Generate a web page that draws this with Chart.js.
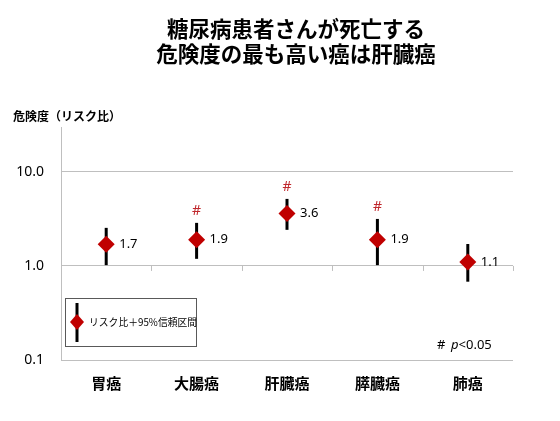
<!DOCTYPE html>
<html>
<head>
<meta charset="utf-8">
<script src="https://cdn.jsdelivr.net/npm/chart.js@4.4.1/dist/chart.umd.min.js"></script>
<style>
  html, body { margin: 0; padding: 0; background: #fff; }
  #wrap { width: 560px; height: 421px; position: relative; }
</style>
</head>
<body>
<div id="wrap"><canvas id="riskChart"></canvas></div>
<script>
// --- DATA ---
const categories = ['胃癌', '大腸癌', '肝臓癌', '膵臓癌', '肺癌'];
const riskRatio = [1.7, 1.9, 3.6, 1.9, 1.1];
const ciLower = [1.02, 1.19, 2.42, 1.02, 0.68];
const ciUpper = [2.54, 2.87, 5.16, 3.16, 1.71];
const significant = [false, true, true, true, false];
const yTicks = [0.1, 1, 10];

const titleLines = ['糖尿病患者さんが死亡する', '危険度の最も高い癌は肝臓癌'];
const jpFont = '"Noto Sans CJK JP", "Noto Sans", sans-serif';
const numFont = '"Noto Sans", "Liberation Sans", sans-serif';
const markColor = '#C00000';

// --- PLUGINS ---
const decorations = {
  id: 'decorations',
  beforeDatasetsDraw(chart) {
    const { ctx, scales: { x, y } } = chart;
    ctx.save();
    // category tick marks on the 1.0 line
    const y1 = y.getPixelForValue(1);
    ctx.strokeStyle = '#bfbfbf';
    ctx.lineWidth = 1;
    for (let i = 0; i <= categories.length; i++) {
      const px = Math.round(x.left + i * (x.right - x.left) / categories.length) + 0.5;
      ctx.beginPath();
      ctx.moveTo(px, y1);
      ctx.lineTo(px, y1 + 5);
      ctx.stroke();
    }
    // error bars
    ctx.strokeStyle = '#000';
    ctx.lineWidth = 3;
    riskRatio.forEach((v, i) => {
      const px = x.getPixelForValue(i);
      ctx.beginPath();
      ctx.moveTo(px, y.getPixelForValue(ciUpper[i]));
      ctx.lineTo(px, y.getPixelForValue(ciLower[i]));
      ctx.stroke();
    });
    ctx.restore();
  },
  afterDatasetsDraw(chart) {
    const { ctx, scales: { x, y } } = chart;
    ctx.save();
    // value labels and significance marks
    ctx.textBaseline = 'middle';
    riskRatio.forEach((v, i) => {
      const px = x.getPixelForValue(i);
      ctx.fillStyle = '#000';
      ctx.font = '13px ' + numFont;
      ctx.textAlign = 'left';
      ctx.fillText(v.toFixed(1), px + 13, y.getPixelForValue(v));
      if (significant[i]) {
        ctx.fillStyle = '#c0282d';
        ctx.font = '14px ' + numFont;
        ctx.textAlign = 'center';
        ctx.fillText('#', px, y.getPixelForValue(ciUpper[i]) - 12);
      }
    });

    // title
    ctx.fillStyle = '#000';
    ctx.textAlign = 'center';
    ctx.font = 'bold 21.5px ' + jpFont;
    titleLines.forEach((t, i) => ctx.fillText(t, 296, 29 + i * 25));

    // axis title
    ctx.textAlign = 'left';
    ctx.font = 'bold 12px ' + jpFont;
    ctx.fillText('危険度（リスク比）', 13, 116);

    // legend box
    ctx.strokeStyle = '#595959';
    ctx.lineWidth = 1;
    ctx.strokeRect(65.5, 298.5, 131, 48);
    ctx.strokeStyle = '#000';
    ctx.lineWidth = 3;
    ctx.beginPath();
    ctx.moveTo(77, 303);
    ctx.lineTo(77, 342);
    ctx.stroke();
    ctx.fillStyle = markColor;
    ctx.beginPath();
    ctx.moveTo(77, 314);
    ctx.lineTo(84, 322);
    ctx.lineTo(77, 330);
    ctx.lineTo(70, 322);
    ctx.closePath();
    ctx.fill();
    ctx.fillStyle = '#000';
    ctx.font = '9.8px ' + jpFont;
    ctx.fillText('リスク比＋95%信頼区間', 89, 322);

    // p-value note
    ctx.font = '13px ' + numFont;
    ctx.fillText('#', 437, 345);
    ctx.font = 'italic 13px ' + numFont;
    ctx.fillText('p', 451, 345);
    const pw = ctx.measureText('p').width;
    ctx.font = '13px ' + numFont;
    ctx.fillText('<0.05', 451 + pw, 345);
    ctx.restore();
  }
};

// --- CHART ---
const ctx = document.getElementById('riskChart').getContext('2d');
const riskChart = new Chart(ctx, {
  type: 'line',
  data: {
    labels: categories,
    datasets: [{
      label: 'リスク比',
      data: riskRatio,
      showLine: false,
      pointStyle: 'rectRot',
      pointRadius: 8.5,
      pointHoverRadius: 8.5,
      backgroundColor: markColor,
      borderColor: markColor,
      borderWidth: 0
    }]
  },
  options: {
    responsive: true,
    maintainAspectRatio: false,
    animation: false,
    layout: { padding: { top: 127, right: 47, left: 0, bottom: 0 } },
    plugins: {
      legend: { display: false },
      title: { display: false },
      tooltip: { enabled: false }
    },
    scales: {
      x: {
        type: 'category',
        offset: true,
        grid: { display: false, drawTicks: false },
        border: { display: false },
        ticks: {
          padding: 14,
          color: '#000',
          font: { family: jpFont, size: 15, weight: 'bold' }
        },
        afterFit(scale) { scale.height = 61; }
      },
      y: {
        type: 'logarithmic',
        min: 0.1,
        max: 30,
        afterBuildTicks(scale) {
          scale.ticks = yTicks.map(v => ({ value: v }));
        },
        grid: { color: '#bfbfbf', drawTicks: false, lineWidth: 1 },
        border: { display: true, color: '#bfbfbf' },
        ticks: {
          padding: 17,
          color: '#000',
          font: { family: numFont, size: 14 },
          callback: v => Number(v).toFixed(1)
        },
        afterFit(scale) { scale.width = 61; }
      }
    }
  },
  plugins: [decorations]
});
</script>
</body>
</html>
